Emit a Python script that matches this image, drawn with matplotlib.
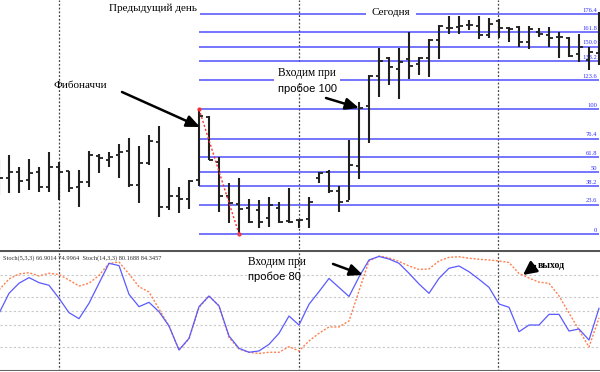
import matplotlib.pyplot as plt
import numpy as np

# bar index -1..59 (one bar every 10 px)
bars = np.arange(-1, 60)
highs = [59, 63.2, 53.8, 59.8, 53.8, 65.4, 57.4, 50.4, 51.2, 66.4, 64, 65.4, 71.8, 76.6, 70.6, 79.2,
         86.6, 52.6, 37.8, 43.2, 100, 94.6, 61.8, 40.8, 44.8, 28, 27.2, 29.8, 25.8, 36.6, 11.2, 29.8,
         49.8, 51.2, 38.6, 75.2, 105.8, 127.2, 148.6, 141.8, 149, 161.4, 141.8, 155.8, 167.2, 174.4,
         174.4, 171.2, 174.4, 172.6, 172, 165.8, 166.6, 166.6, 164.6, 165.8, 161.8, 157.8, 159.8,
         149.8, 177.8]
lows = [31, 33.0, 33.0, 35.2, 33.8, 33.8, 27.2, 33.8, 21.8, 37.8, 48.6, 53.8, 44.6, 37.8, 24.6, 55.2,
        13.4, 19.2, 16.6, 19.8, 38.4, 59.2, 17.8, 8.8, 0, 8.6, 4.6, 5.8, 8.6, 8.6, 4.6, 4.6, 40.6, 32.6,
        17.8, 27.2, 44, 72.6, 109.8, 119.2, 108, 124, 127.2, 125.8, 140, 159.8, 159.8, 163.2, 155.8,
        156.6, 156.6, 153.8, 149.8, 148, 157.8, 149.8, 140.6, 141.8, 137.8, 131.2, 135.2]
opens = [50, 45.0, 49.8, 43.2, 49.8, 37.8, 53.8, 50.4, 37.8, 41.8, 62.6, 59.2, 63.2, 66.6, 39.2, 56.6,
         73.4, 21.4, 30.4, 27.8, 43.2, 93.8, 57.8, 30.4, 24, 20.8, 19.2, 12.6, 21, 10.4, 11.2, 12, 45,
         49.8, 34.4, 26.4, 54.6, 102.4, 126.6, 140.6, 132, 140, 136, 140.6, 155.2, 165, 165.8, 167.2,
         166.6, 159.2, 170.6, 164.6, 165.8, 153.8, 161.8, 159.2, 157.8, 156.6, 143.8, 139.2, 145]
closes = [44.6, 49.8, 42.4, 48.6, 37.8, 53.4, 49.8, 36.6, 41.8, 63.2, 60.6, 61.8, 65.8, 39.2, 56.6,
          74.6, 21.4, 30.4, 27.8, 42.4, 94.8, 59.2, 30.6, 24.8, 20, 9.4, 9.6, 23.2, 9.4, 9.8, 11.2, 25.8,
          48.6, 34.4, 25.8, 55.2, 100.8, 126.6, 138.4, 133.4, 137.4, 134.4, 140.6, 155.2, 166.6, 165,
          166.6, 167.2, 159.2, 168, 164.6, 164, 153.4, 164, 159.8, 157, 157.8, 142.6, 149.8, 145.8, 150]

stoch_fast = [48, 64.7, 73.1, 77.8, 73.6, 71.4, 60.6, 48.6, 43.6, 56.4, 73.1, 89.7, 87.8, 63.9, 53.6,
              57.2, 49.4, 37.5, 17.5, 27.2, 53.6, 62.5, 54.2, 29.2, 18.9, 15.6, 16.7, 22.2, 31.4, 45.8,
              38.3, 55.6, 66.1, 77.1, 69.6, 62.1, 78.3, 92.5, 95.4, 93.3, 89.7, 81.4, 72.5, 64.7, 77.2,
              85.6, 87.5, 82.7, 76.4, 69.7, 55.8, 53.1, 32.7, 38.3, 38.3, 47.2, 47.2, 33.3, 35, 25.8, 52.2]
stoch_slow = [67.5, 76.7, 80.8, 81.9, 79.2, 81.4, 80.4, 75.8, 70.8, 73.1, 79.6, 89.6, 90.8, 80.8, 70.2,
              65.8, 51.7, 37.5, 17.5, 26.7, 52.8, 62.5, 54.2, 27.9, 18.3, 15.6, 14.6, 15.6, 15.6, 20.3,
              16.7, 25, 31.4, 36.7, 36.7, 41.7, 66.7, 91.7, 95.8, 94.2, 91.3, 87.5, 84.6, 85, 91.7, 94.7,
              95.2, 93.9, 93.1, 92.5, 91.7, 90.4, 81.2, 77.5, 74, 73.1, 62.5, 48.3, 34.2, 20, 44.2]

fib_levels = [0, 23.6, 38.2, 50, 61.8, 76.4, 100, 123.6, 138.2, 150, 161.8, 176.4]
fib_labels = ["0", "23.6", "38.2", "50", "61.8", "76.4", "100", "123.6", "138.2", "150.0", "161.8", "176.4"]
fib_start, fib_end = 19, 23      # swing high bar -> swing low bar
day_breaks = [5, 29, 48.9]
stoch_levels = [20, 38.2, 50, 61.8, 80]

W, H = 600, 372
fig = plt.figure(figsize=(6, 3.72), dpi=100)
ax = fig.add_axes([0, 1 - 249 / H, 1, 249 / H])
ax2 = fig.add_axes([0, 1 / H, 1, 121 / H])
for a in (ax, ax2):
    a.set_xlim(-0.9, 59.1)
    a.set_xticks([])
    a.set_yticks([])
    for s in a.spines.values():
        s.set_visible(False)
ax.set_ylim(-12, 187.2)
ax2.set_ylim(0, 100.8)

serif = "Liberation Serif"
fib_col = "#5050ff"

# fibonacci grid
for lv, lb in zip(fib_levels, fib_labels):
    ax.hlines(lv, fib_start, 59, color=fib_col, lw=1.1, zorder=1)
    ax.text(58.8, lv + 0.8, lb, ha="right", va="bottom", fontsize=4.7, color="#3030ff",
            family=serif, zorder=2)
ax.plot([fib_start, fib_end], [highs[fib_start + 1], lows[fib_end + 1]], color="#ff3030",
        ls=(0, (1.5, 1.5)), lw=1, marker="o", ms=2, mfc="none", zorder=4)

# OHLC bars
ax.vlines(bars, lows, highs, color="#202020", lw=1.5, zorder=3)
ax.hlines(opens, bars - 0.35, bars, color="#202020", lw=1.3, zorder=3)
ax.hlines(closes, bars, bars + 0.35, color="#202020", lw=1.3, zorder=3)

for d in day_breaks:
    ax.axvline(d, color="#444444", lw=0.9, ls=(0, (1.5, 1.5)), zorder=0)
    ax2.axvline(d, color="#444444", lw=0.9, ls=(0, (1.5, 1.5)), zorder=0)

ax.text(18.8, 180.5, "Предыдущий день", ha="right", va="center", fontsize=8, family=serif,
        bbox=dict(facecolor="white", edgecolor="none", pad=2.5), zorder=5)
ax.text(38.2, 177.5, "Сегодня", ha="center", va="center", fontsize=8, family=serif,
        bbox=dict(facecolor="white", edgecolor="none", pad=4), zorder=5)
ax.text(7.1, 118.4, "Фибоначчи", ha="center", va="center", fontsize=8, family=serif, zorder=5)
ax.text(26.9, 128.6, "Входим при", ha="left", va="center", fontsize=8.3, family=serif,
        bbox=dict(facecolor="white", edgecolor="none", pad=3), zorder=5)
ax.text(26.9, 115.8, "пробое 100", ha="left", va="center", fontsize=8, family="Liberation Sans",
        zorder=5)
arrow = dict(arrowstyle="-|>,head_length=0.8,head_width=0.35", color="black", lw=1.8,
             shrinkA=0, shrinkB=0)
ax.annotate("", xy=(19.1, 85.6), xytext=(11.3, 113.6), arrowprops=arrow, zorder=6)
ax.annotate("", xy=(35.0, 100.8), xytext=(31.7, 108.8), arrowprops=arrow, zorder=6)

# stochastic panel
for lv in stoch_levels:
    ax2.axhline(lv, color="#c8c8c8", lw=0.8, ls=(0, (2, 2)), zorder=0)
ax2.plot(bars, stoch_slow, color="#ff8050", lw=1, ls=(0, (1.5, 1.2)), zorder=2)
ax2.plot(bars, stoch_fast, color="#5a5aff", lw=0.9, zorder=3)
ax2.axhline(100.8, color="#555555", lw=2.2)
ax2.axhline(0, color="#666666", lw=1.5)
ax2.text(0.005, 0.955, "Stoch(5,3,3) 66.9014 74.9964  Stoch(14,3,3) 80.1688 84.3457",
         transform=ax2.transAxes, ha="left", va="top", fontsize=4.6, color="#303030", family=serif)
ax2.text(23.9, 90.8, "Входим при", ha="left", va="center", fontsize=8.3, family=serif, zorder=5)
ax2.text(23.9, 78.3, "пробое 80", ha="left", va="center", fontsize=8, family="Liberation Sans",
         zorder=5)
ax2.text(52.9, 88.3, "выход", ha="left", va="center", fontsize=7, family=serif,
         fontweight="bold", zorder=5)
ax2.annotate("", xy=(35.4, 80), xytext=(32.4, 89.2), arrowprops=arrow, zorder=6)
ax2.annotate("", xy=(51.4, 80), xytext=(52.6, 87.5),
             arrowprops=dict(arrowstyle="-|>,head_length=0.8,head_width=0.4", color="black",
                             lw=1.8, shrinkA=0, shrinkB=0), zorder=6)

fig.savefig("out.png", dpi=100, facecolor="white")
